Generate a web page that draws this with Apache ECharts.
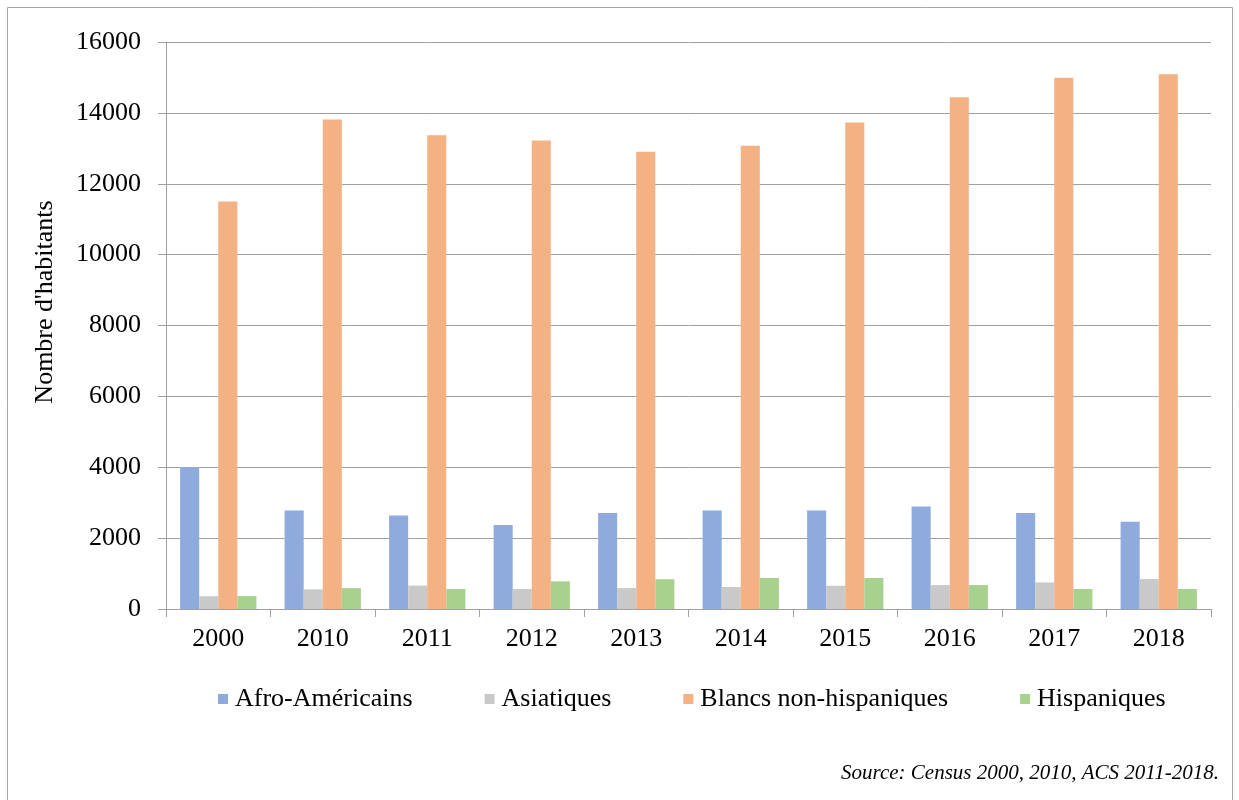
<!DOCTYPE html>
<html>
<head>
<meta charset="utf-8">
<script src="https://cdn.jsdelivr.net/npm/echarts@6/dist/echarts.min.js"></script>
<style>
  html, body { margin: 0; padding: 0; background: #ffffff; }
  #chart { width: 1239px; height: 800px; }
</style>
</head>
<body>
<div id="chart"></div>
<script>
const categories = ['2000', '2010', '2011', '2012', '2013', '2014', '2015', '2016', '2017', '2018'];
const seriesNames = ['Afro-Américains', 'Asiatiques', 'Blancs non-hispaniques', 'Hispaniques'];
const afroAmericains = [4010, 2780, 2640, 2370, 2710, 2780, 2780, 2890, 2710, 2460];
const asiatiques = [360, 555, 660, 565, 590, 620, 655, 675, 750, 845];
const blancs = [11500, 13810, 13370, 13220, 12900, 13070, 13730, 14440, 14990, 15090];
const hispaniques = [365, 590, 565, 780, 840, 875, 875, 675, 565, 565];
const yTicks = { min: 0, max: 16000, interval: 2000 };
const colors = ['#8faadc', '#c9c9c9', '#f4b183', '#a9d18e'];

const font = 'Liberation Serif';
const chart = echarts.init(document.getElementById('chart'), null, { renderer: 'canvas' });
const values = [afroAmericains, asiatiques, blancs, hispaniques];

chart.setOption({
  animation: false,
  backgroundColor: '#ffffff',
  color: colors,
  textStyle: { fontFamily: font, color: '#000' },
  grid: { left: 166, right: 28, top: 42, bottom: 191, containLabel: false },
  legend: {
    data: seriesNames,
    left: 213,
    top: 681,
    icon: 'rect',
    itemWidth: 10,
    itemHeight: 10,
    itemGap: 72,
    textStyle: { fontFamily: font, fontSize: 26, color: '#000', padding: [0, 0, 0, 2] }
  },
  xAxis: {
    type: 'category',
    data: categories,
    axisLine: { show: true, lineStyle: { color: '#a0a0a0', width: 1 } },
    axisTick: { show: true, length: 8, lineStyle: { color: '#a0a0a0' } },
    axisLabel: { fontFamily: font, fontSize: 26, color: '#000', margin: 17 }
  },
  yAxis: {
    type: 'value',
    min: yTicks.min,
    max: yTicks.max,
    interval: yTicks.interval,
    axisLine: { show: true, lineStyle: { color: '#a0a0a0', width: 1 } },
    axisTick: { show: true, length: 8, lineStyle: { color: '#a0a0a0' } },
    splitLine: { show: true, lineStyle: { color: '#a0a0a0', width: 1 } },
    axisLabel: {
      fontFamily: font, fontSize: 26, color: '#000', margin: 25,
      formatter: function (v) { return String(v); }
    }
  },
  series: seriesNames.map((name, i) => ({
    name: name,
    type: 'bar',
    data: values[i],
    barGap: '0%',
    barCategoryGap: '27%',
    itemStyle: { color: colors[i] }
  })),
  graphic: [
    {
      type: 'rect',
      shape: { x: 7.5, y: 7.5, width: 1225, height: 800 },
      style: { fill: 'none', stroke: '#a6a6a6', lineWidth: 1 },
      silent: true
    },
    {
      type: 'text',
      x: 45,
      y: 302,
      rotation: Math.PI / 2,
      style: {
        text: "Nombre d'habitants",
        font: '26px "Liberation Serif"',
        fill: '#000',
        align: 'center',
        verticalAlign: 'middle'
      }
    },
    {
      type: 'text',
      x: 1219,
      y: 773,
      style: {
        text: 'Source: Census 2000, 2010, ACS 2011-2018.',
        font: 'italic 21px "Liberation Serif"',
        fill: '#000',
        align: 'right',
        verticalAlign: 'middle'
      }
    }
  ]
});
</script>
</body>
</html>
